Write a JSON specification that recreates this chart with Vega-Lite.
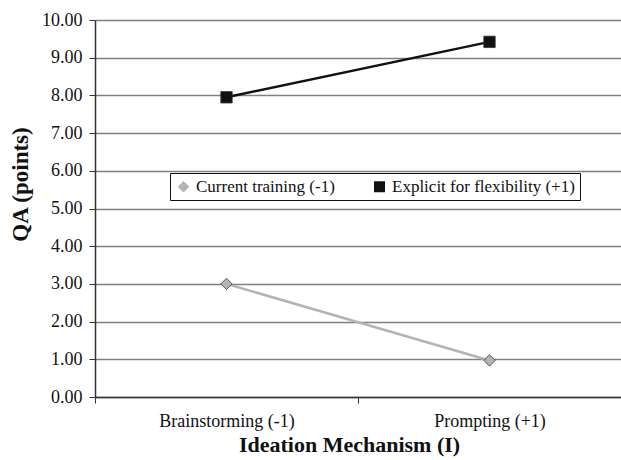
{
  "$schema": "https://vega.github.io/schema/vega-lite/v6.json",
  "autosize": {"type": "none"},
  "padding": {"left": 95, "top": 20, "right": 0, "bottom": 63},
  "width": 526,
  "height": 377,
  "background": "white",
  "config": {
    "view": {"stroke": null},
    "font": "Liberation Serif"
  },
  "data": {
    "values": [
      {"mechanism": "Brainstorming (-1)", "training": "Current training (-1)", "qa": 3.0},
      {"mechanism": "Prompting (+1)", "training": "Current training (-1)", "qa": 0.97},
      {"mechanism": "Brainstorming (-1)", "training": "Explicit for flexibility (+1)", "qa": 7.95},
      {"mechanism": "Prompting (+1)", "training": "Explicit for flexibility (+1)", "qa": 9.42}
    ]
  },
  "encoding": {
    "x": {
      "field": "mechanism",
      "type": "nominal",
      "sort": ["Brainstorming (-1)", "Prompting (+1)"],
      "scale": {"paddingInner": 0, "paddingOuter": 0},
      "axis": {
        "title": "Ideation Mechanism (I)",
        "titleFont": "Liberation Serif",
        "titleFontSize": 22,
        "titleFontWeight": "bold",
        "titleColor": "#111",
        "titlePadding": 4,
        "titleX": 254,
        "labelFont": "Liberation Serif",
        "labelFontSize": 18,
        "labelColor": "#111",
        "labelAngle": 0,
        "labelPadding": 9,
        "tickBand": "extent",
        "tickColor": "#333",
        "tickSize": 6,
        "domainColor": "#333",
        "domainWidth": 1.5,
        "grid": false
      }
    },
    "y": {
      "field": "qa",
      "type": "quantitative",
      "scale": {"domain": [0, 10], "nice": false},
      "axis": {
        "title": "QA (points)",
        "titleFont": "Liberation Serif",
        "titleFontSize": 23,
        "titleFontWeight": "bold",
        "titleColor": "#111",
        "titleAngle": -90,
        "titleX": -75,
        "titleY": 164,
        "titleAlign": "center",
        "titleBaseline": "middle",
        "labelFont": "Liberation Serif",
        "labelFontSize": 18,
        "labelColor": "#111",
        "labelPadding": 7,
        "format": ".2f",
        "values": [0, 1, 2, 3, 4, 5, 6, 7, 8, 9, 10],
        "tickColor": "#333",
        "tickSize": 6,
        "domainColor": "#333",
        "domainWidth": 1.5,
        "grid": true,
        "gridColor": "#808080",
        "gridWidth": 1.5
      }
    },
    "color": {
      "field": "training",
      "type": "nominal",
      "scale": {"domain": ["Current training (-1)", "Explicit for flexibility (+1)"], "range": ["#b4b4b4", "#111111"]},
      "legend": {
        "orient": "none",
        "legendX": 75,
        "legendY": 153,
        "direction": "horizontal",
        "title": null,
        "labelFont": "Liberation Serif",
        "labelFontSize": 17,
        "labelColor": "#111",
        "labelLimit": 300,
        "strokeColor": "#111",
        "padding": 5,
        "columnPadding": 36,
        "symbolSize": 90,
        "symbolStrokeWidth": 1.5
      }
    },
    "shape": {
      "field": "training",
      "type": "nominal",
      "scale": {"domain": ["Current training (-1)", "Explicit for flexibility (+1)"], "range": ["diamond", "square"]},
      "legend": null
    }
  },
  "layer": [
    {
      "mark": {"type": "line", "strokeWidth": 2.5},
      "encoding": {"shape": null}
    },
    {
      "mark": {"type": "point", "filled": true, "size": 130, "opacity": 1, "stroke": "#333", "strokeWidth": 0.8}
    }
  ]
}
